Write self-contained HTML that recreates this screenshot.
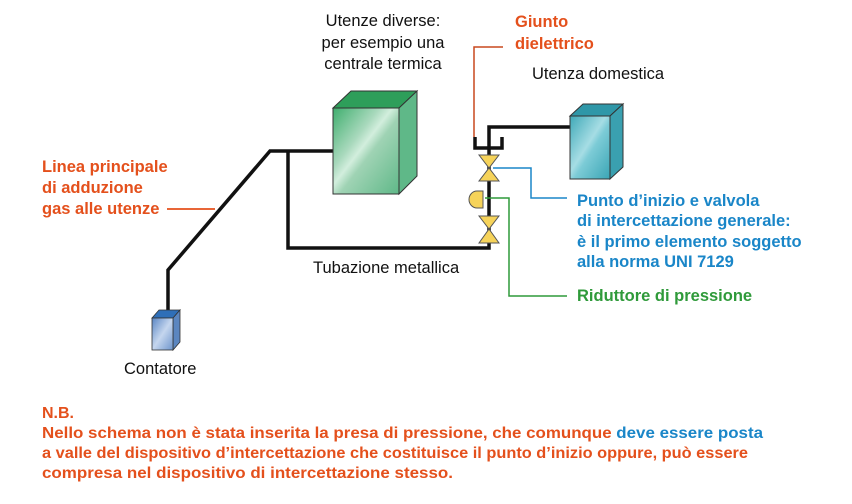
<!DOCTYPE html>
<html><head><meta charset="utf-8"><style>
html,body{margin:0;padding:0;background:#fff;}
svg{display:block;font-family:"Liberation Sans",Arial,sans-serif;}
.o{fill:#e4501c;font-weight:bold;font-size:16.5px;}
.b{fill:#1a86c8;font-weight:bold;font-size:16.5px;}
.g{fill:#2f9a3a;font-weight:bold;font-size:16.5px;}
.k{fill:#111;font-size:16.5px;}
.n{font-size:16px;}
</style></head><body>
<svg width="852" height="504" viewBox="0 0 852 504" xmlns="http://www.w3.org/2000/svg">
<defs>
<linearGradient id="gg" x1="0" y1="0" x2="1" y2="1">
<stop offset="0" stop-color="#3fae6e"/><stop offset="0.35" stop-color="#a9d9bd"/><stop offset="0.45" stop-color="#d2eedd"/><stop offset="0.55" stop-color="#9fd3b4"/><stop offset="1" stop-color="#5fb888"/></linearGradient>
<linearGradient id="tg" x1="0" y1="0" x2="1" y2="1">
<stop offset="0" stop-color="#3fa9b8"/><stop offset="0.45" stop-color="#a6dde4"/><stop offset="0.55" stop-color="#7ccbd6"/><stop offset="1" stop-color="#3aa5b5"/></linearGradient>
<linearGradient id="bg" x1="0" y1="0" x2="1" y2="1">
<stop offset="0" stop-color="#5a86c4"/><stop offset="0.5" stop-color="#c5d6ee"/><stop offset="1" stop-color="#6d95cc"/></linearGradient>
</defs>
<g stroke="#111" stroke-width="3.5" fill="none">
<polyline points="168,310 168,270 270,151 333,151"/>
<polyline points="288,151 288,248 489,248 489,127 570,127"/>
<polyline points="475,137 475,148 502,148 502,137"/>
</g>
<polygon points="333,108 351,91 417,91 399,108" fill="#2e9e5a" stroke="#333" stroke-width="1"/>
<polygon points="399,108 417,91 417,176 399,194" fill="#5fb888" stroke="#333" stroke-width="1"/>
<rect x="333" y="108" width="66" height="86" fill="url(#gg)" stroke="#333" stroke-width="1"/>
<polygon points="570,116 583,104 623,104 610,116" fill="#2f97a8" stroke="#333" stroke-width="1"/>
<polygon points="610,116 623,104 623,167 610,179" fill="#3aa0b0" stroke="#333" stroke-width="1"/>
<rect x="570" y="116" width="40" height="63" fill="url(#tg)" stroke="#333" stroke-width="1"/>
<polygon points="152,318 159,310 180,310 173,318" fill="#2f6fb8" stroke="#333" stroke-width="0.8"/>
<polygon points="173,318 180,310 180,342 173,350" fill="#5b86c0" stroke="#333" stroke-width="0.8"/>
<rect x="152" y="318" width="21" height="32" fill="url(#bg)" stroke="#333" stroke-width="0.8"/>
<g fill="#f6d35a" stroke="#555" stroke-width="1">
<polygon points="479,155 499,155 489,168"/><polygon points="479,181 499,181 489,168"/>
<polygon points="479,216 499,216 489,229"/><polygon points="479,243 499,243 489,229"/>
<path d="M483,191 L477,191 A8,8.5 0 0 0 477,208 L483,208 Z"/>
</g>
<polyline points="474,137 474,47 503,47" fill="none" stroke="#c9491e" stroke-width="1.5"/>
<line x1="167" y1="209" x2="215" y2="209" stroke="#e4501c" stroke-width="1.8"/>
<polyline points="493,168 531,168 531,198 567,198" fill="none" stroke="#1a86c8" stroke-width="1.5"/>
<polyline points="485,198 509,198 509,296 567,296" fill="none" stroke="#2f9a3a" stroke-width="1.5"/>
<text class="k" x="383" y="26" text-anchor="middle">Utenze diverse:</text>
<text class="k" x="383" y="48" text-anchor="middle">per esempio una</text>
<text class="k" x="383" y="69" text-anchor="middle">centrale termica</text>
<text class="o" x="515" y="27">Giunto</text>
<text class="o" x="515" y="49">dielettrico</text>
<text class="k" x="532" y="79">Utenza domestica</text>
<text class="o" x="42" y="172">Linea principale</text>
<text class="o" x="42" y="193">di adduzione</text>
<text class="o" x="42" y="214">gas alle utenze</text>
<text class="b" x="577" y="206">Punto d’inizio e valvola</text>
<text class="b" x="577" y="226">di intercettazione generale:</text>
<text class="b" x="577" y="247">è il primo elemento soggetto</text>
<text class="b" x="577" y="267">alla norma UNI 7129</text>
<text class="g" x="577" y="301">Riduttore di pressione</text>
<text class="k" x="313" y="273">Tubazione metallica</text>
<text class="k" x="124" y="374">Contatore</text>
<text class="o n" x="42" y="418">N.B.</text>
<text class="o n" x="42" y="438" textLength="721" lengthAdjust="spacingAndGlyphs">Nello schema non è stata inserita la presa di pressione, che comunque <tspan fill="#1a86c8">deve essere posta</tspan></text>
<text class="o n" x="42" y="458" textLength="706" lengthAdjust="spacingAndGlyphs">a valle del dispositivo d’intercettazione che costituisce il punto d’inizio oppure, può essere</text>
<text class="o n" x="42" y="478" textLength="411" lengthAdjust="spacingAndGlyphs">compresa nel dispositivo di intercettazione stesso.</text>
</svg>
</body></html>
